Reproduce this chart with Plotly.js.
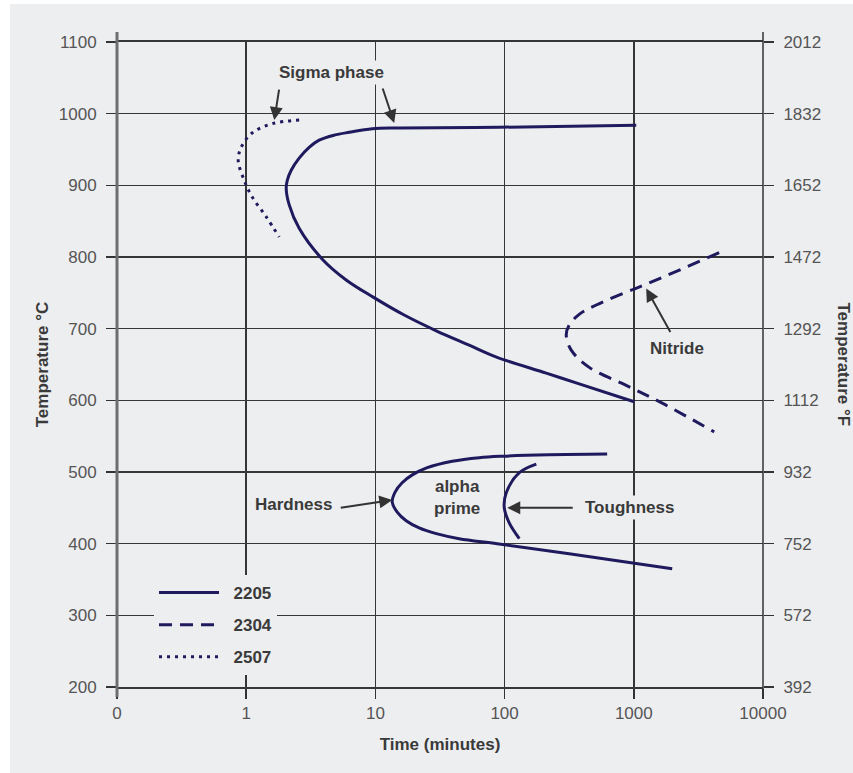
<!DOCTYPE html>
<html>
<head>
<meta charset="utf-8">
<script src="https://cdn.plot.ly/plotly-3.0.1.min.js"></script>
<style>
  html, body { margin: 0; padding: 0; background: #ffffff; }
  #chart { position: absolute; left: 10px; top: 4px; width: 843px; height: 769px; }
</style>
</head>
<body>
<div id="chart"></div>
<script>
// ---- Data (time in minutes, temperature in °C) ----
const sigma2205Time = [1044, 90.8, 15.3, 9.44, 6.27, 4.80, 3.67, 3.07, 2.57, 2.23, 2.08, 2.04, 2.15, 2.57, 3.88, 5.94, 9.61, 16.7, 29.6, 53.2, 87.6, 210, 378, 1007];
const sigma2205Temp = [984, 981, 980, 979, 974, 970, 963, 953, 938, 921, 907, 896, 873, 840, 797, 768, 744, 719, 697, 677, 660, 638, 623, 598];

const nitride2304Time = [4580, 1247, 873, 512, 378, 316, 300, 328, 452, 873, 1660, 4190];
const nitride2304Temp = [806, 762, 751, 733, 720, 705, 691, 670, 646, 621, 596, 556];

const sigma2507Time = [2.57, 1.59, 1.11, 0.915, 0.867, 0.965, 1.11, 1.43, 1.80];
const sigma2507Temp = [991, 986, 973, 953, 935, 907, 884, 856, 828];

const hardness2205Time = [622, 221, 95.8, 63.6, 39.3, 25.2, 19.3, 16.1, 14.2, 13.5, 14.75, 17.3, 21.8, 29.6, 44.5, 87.6, 316, 1983];
const hardness2205Temp = [525, 524, 522, 520, 515, 506, 496, 485, 472, 458, 444, 432, 422, 414, 407, 400, 386, 365];

const toughness2205Time = [176, 130, 103, 99.3, 108.6, 130];
const toughness2205Temp = [511, 499, 471, 451, 429, 407];

const timeTickVals = [0.1, 1, 10, 100, 1000, 10000];
const timeTickText = ['0', '1', '10', '100', '1000', '10000'];
const tempCTicks = [200, 300, 400, 500, 600, 700, 800, 900, 1000, 1100];
const tempFTicks = ['392', '572', '752', '932', '1112', '1292', '1472', '1652', '1832', '2012'];

// ---- Styles ----
const NAVY = '#1f1a5e';
const BG = '#edeef0';
const TXT = '#3a3a3a';
const FONT = 'Liberation Sans, Arial, sans-serif';

const traces = [
  { x: sigma2205Time, y: sigma2205Temp, name: '&nbsp;&nbsp;<b>2205</b>', legendgroup: 'g2205', mode: 'lines',
    line: { color: NAVY, width: 3, shape: 'spline', smoothing: 1 }, hoverinfo: 'skip' },
  { x: nitride2304Time, y: nitride2304Temp, name: '&nbsp;&nbsp;<b>2304</b>', legendgroup: 'g2304', mode: 'lines',
    line: { color: NAVY, width: 3, shape: 'spline', smoothing: 1, dash: '13px,8px' }, hoverinfo: 'skip' },
  { x: sigma2507Time, y: sigma2507Temp, name: '&nbsp;&nbsp;<b>2507</b>', legendgroup: 'g2507', mode: 'lines',
    line: { color: NAVY, width: 3, shape: 'spline', smoothing: 1, dash: '3px,5px' }, hoverinfo: 'skip' },
  { x: hardness2205Time, y: hardness2205Temp, name: '2205', legendgroup: 'g2205', showlegend: false, mode: 'lines',
    line: { color: NAVY, width: 3, shape: 'spline', smoothing: 1 }, hoverinfo: 'skip' },
  { x: toughness2205Time, y: toughness2205Temp, name: '2205', legendgroup: 'g2205', showlegend: false, mode: 'lines',
    line: { color: NAVY, width: 3, shape: 'spline', smoothing: 1 }, hoverinfo: 'skip' },
  { x: [null], y: [null], yaxis: 'y2', showlegend: false, hoverinfo: 'skip', mode: 'lines' }
];

function arrow(x, y, ax, ay) {
  return { x: Math.log10(x), y: y, xref: 'x', yref: 'y', text: '', showarrow: true,
    ax: ax, ay: ay, arrowhead: 2, arrowsize: 1.3, arrowwidth: 2, arrowcolor: '#333333', standoff: 0 };
}
function label(x, y, text) {
  return { x: Math.log10(x), y: y, xref: 'x', yref: 'y', text: '<b>' + text + '</b>', showarrow: false,
    font: { family: FONT, size: 17, color: TXT }, bgcolor: BG, borderpad: 2 };
}

const layout = {
  paper_bgcolor: BG,
  plot_bgcolor: BG,
  margin: { l: 107, r: 90, t: 38, b: 86 },
  font: { family: FONT, size: 17, color: '#555555' },
  showlegend: true,
  legend: {
    x: 0.0573, y: 0.1736, xanchor: 'left', yanchor: 'top',
    bgcolor: BG, borderwidth: 0,
    font: { family: FONT, size: 17, color: TXT },
    traceorder: 'grouped', tracegroupgap: 7, itemwidth: 60
  },
  xaxis: {
    type: 'log', range: [-1, 4],
    tickvals: timeTickVals, ticktext: timeTickText,
    ticks: 'outside', ticklen: 10, tickwidth: 1.5, tickcolor: '#333333',
    showgrid: true, gridcolor: '#363636', gridwidth: 1.6,
    showline: true, mirror: true, linecolor: '#363636', linewidth: 1.6,
    zeroline: false, ticklabelstandoff: 0,
    title: { text: '<b>Time (minutes)</b>', font: { family: FONT, size: 17, color: TXT }, standoff: 16 }
  },
  yaxis: {
    range: [200, 1100], tickvals: tempCTicks,
    ticks: 'outside', ticklen: 10, tickwidth: 1.5, tickcolor: '#333333',
    showgrid: true, gridcolor: '#363636', gridwidth: 1.6,
    zeroline: false, showline: false, ticklabelstandoff: 6,
    title: { text: '<b>Temperature °C</b>', font: { family: FONT, size: 17, color: TXT }, standoff: 5 }
  },
  yaxis2: {
    overlaying: 'y', side: 'right', range: [200, 1100],
    tickvals: tempCTicks, ticktext: tempFTicks,
    ticks: 'outside', ticklen: 10, tickwidth: 1.5, tickcolor: '#333333',
    showgrid: false, zeroline: false, showline: false, ticklabelstandoff: 6
  },
  shapes: [
    { type: 'line', xref: 'paper', yref: 'paper', x0: 0, x1: 0, y0: -10 / 645, y1: 1 + 10 / 645,
      line: { color: '#6e6e6e', width: 3 } },
    { type: 'line', xref: 'paper', yref: 'paper', x0: 1, x1: 1, y0: -10 / 645, y1: 1 + 10 / 645,
      line: { color: '#333333', width: 1.5 } }
  ],
  annotations: [
    label(4.55, 1058, 'Sigma phase'),
    arrow(1.65, 991, 5, -32),
    arrow(13.98, 987, -12, -36),
    label(2168, 672, 'Nitride'),
    arrow(1247, 756, 25, 45),
    label(2.31, 455, 'Hardness'),
    arrow(13.5, 461, -53, 8),
    label(43, 464, 'alpha<br>prime'),
    label(921, 451, 'Toughness'),
    arrow(104.8, 450, 67, 0),
    { xref: 'paper', yref: 'paper', x: 1 + 80 / 646, y: 0.5, xanchor: 'center', yanchor: 'middle',
      text: '<b>Temperature °F</b>', textangle: 90, showarrow: false,
      font: { family: FONT, size: 17, color: TXT } }
  ]
};

Plotly.newPlot('chart', traces, layout, { displayModeBar: false, staticPlot: true });
</script>
</body>
</html>
